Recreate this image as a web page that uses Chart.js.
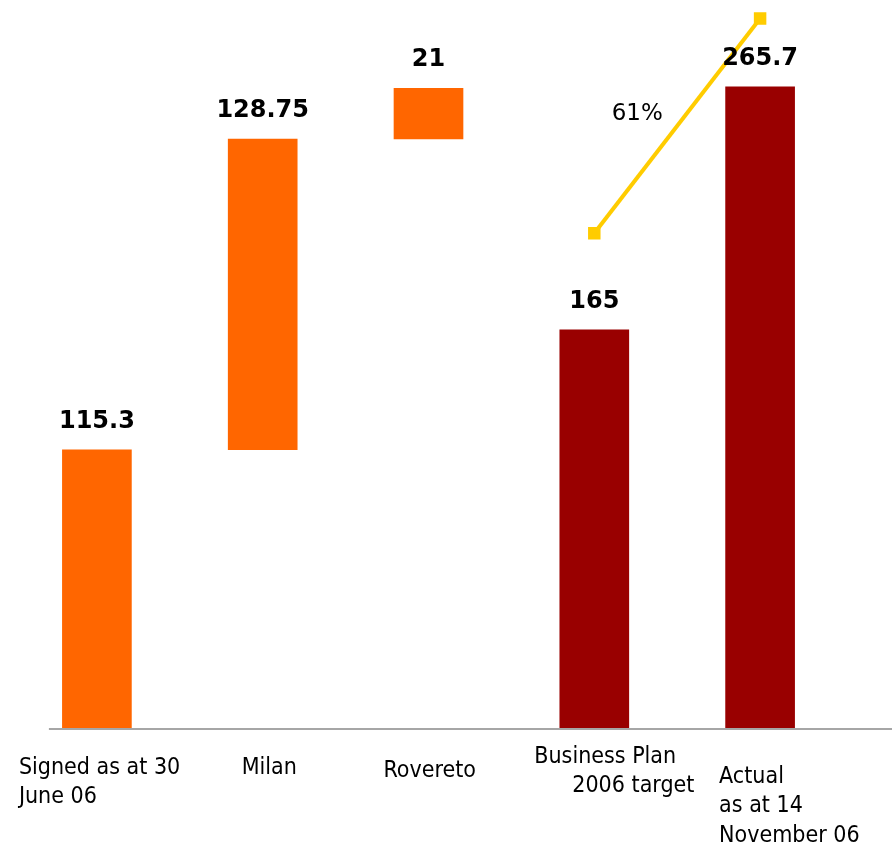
<!DOCTYPE html>
<html>
<head>
<meta charset="utf-8">
<script src="https://cdn.jsdelivr.net/npm/chart.js@4.4.1/dist/chart.umd.min.js"></script>
<style>
html, body { margin: 0; padding: 0; background: #fff; }
#contenedor { width: 892px; height: 846px; }
</style>
</head>
<body>
<div id="contenedor"><canvas id="cascada"></canvas></div>
<script>
// datos de la cascada
const categorias = [
    ['Signed as at 30', 'June 06'],
    ['Milan'],
    ['Rovereto'],
    ['Business Plan', '2006 target'],
    ['Actual', 'as at 14', 'November 06']
];
const valores = [115.3, 128.75, 21, 165, 265.7];
const tipos = ['base', 'incremento', 'incremento', 'objetivo', 'real'];
// tramo amarillo entre objetivo y real
const tramoLinea = [null, null, null, 205, 294];

const NARANJA = '#FF6600';
const GRANATE = '#990000';
const AMARILLO = '#FFCC00';

// desplazamiento de cada etiqueta del eje respecto al centro de su barra
const posEtiquetas = [
    { dx: -78, dy: 40, sangria: [0, 0] },
    { dx: -21, dy: 40, sangria: [0] },
    { dx: -45, dy: 43, sangria: [0] },
    { dx: -60, dy: 29, sangria: [0, 38] },
    { dx: -41, dy: 49, sangria: [0, 0, 0] }
];

document.addEventListener("DOMContentLoaded", dibujar);

function tramos(){
    var acumulado = 0;
    return valores.map(function(v, i){
        if(tipos[i] == 'incremento'){
            var t = [acumulado, acumulado + v];
            acumulado += v;
            return t;
        }
        if(tipos[i] == 'base') acumulado = v;
        return [0, v];
    });
}

const etiquetas = {
    id: 'etiquetas',
    beforeDatasetsDraw(chart){
        const ctx = chart.ctx;
        const x = chart.scales.x, y = chart.scales.y;
        const y0 = y.getPixelForValue(0);
        ctx.save();
        ctx.strokeStyle = '#a6a6a6';
        ctx.lineWidth = 2;
        ctx.beginPath();
        ctx.moveTo(x.getPixelForValue(0) - 48, y0 + 1);
        ctx.lineTo(chart.width, y0 + 1);
        ctx.stroke();
        ctx.restore();
    },
    afterDatasetsDraw(chart){
        const ctx = chart.ctx;
        const x = chart.scales.x, y = chart.scales.y;
        const barras = chart.getDatasetMeta(0).data;
        const y0 = y.getPixelForValue(0);
        ctx.save();

        // valores encima de las barras
        ctx.fillStyle = '#000';
        ctx.textAlign = 'center';
        ctx.textBaseline = 'alphabetic';
        ctx.font = 'bold 24px "DejaVu Sans"';
        barras.forEach(function(b, i){
            ctx.fillText(String(valores[i]), b.x, Math.min(b.y, b.base) - 22);
        });

        // categorias bajo el eje
        ctx.font = '23px "DejaVu Sans Condensed", "DejaVu Sans"';
        ctx.textAlign = 'left';
        ctx.textBaseline = 'middle';
        categorias.forEach(function(lineas, i){
            var p = posEtiquetas[i];
            var cx = x.getPixelForValue(i);
            lineas.forEach(function(txt, j){
                ctx.fillText(txt, cx + p.dx + p.sangria[j], y0 + p.dy + j * 29.5);
            });
        });

        // porcentaje de crecimiento junto al tramo amarillo
        const puntos = chart.getDatasetMeta(1).data.filter(function(pt, i){ return tramoLinea[i] !== null; });
        const crecimiento = Math.round((valores[4] / valores[3] - 1) * 100);
        const mx = (puntos[0].x + puntos[1].x) / 2;
        const my = (puntos[0].y + puntos[1].y) / 2;
        ctx.font = '23px "DejaVu Sans"';
        ctx.textAlign = 'center';
        ctx.fillText(crecimiento + '%', mx - 40, my - 12);
        ctx.restore();
    }
};

function dibujar(){
    const ctx = document.getElementById('cascada').getContext('2d');
    new Chart(ctx, {
        data: {
            labels: categorias,
            datasets: [{
                type: 'bar',
                data: tramos(),
                backgroundColor: tipos.map(t => (t == 'objetivo' || t == 'real') ? GRANATE : NARANJA),
                borderWidth: 0,
                barThickness: 69,
                order: 2
            }, {
                type: 'line',
                data: tramoLinea,
                borderColor: AMARILLO,
                borderWidth: 4,
                pointStyle: 'rect',
                pointRadius: 6,
                pointBackgroundColor: AMARILLO,
                pointBorderColor: AMARILLO,
                spanGaps: false,
                order: 1
            }]
        },
        options: {
            responsive: true,
            maintainAspectRatio: false,
            animation: false,
            devicePixelRatio: 1,
            layout: { padding: { left: 14, right: 49, top: 0, bottom: 118 } },
            plugins: { legend: { display: false }, tooltip: { enabled: false } },
            scales: {
                x: { display: false, offset: true },
                y: { display: false, min: 0, max: 297.5 }
            }
        },
        plugins: [etiquetas]
    });
}
</script>
</body>
</html>
